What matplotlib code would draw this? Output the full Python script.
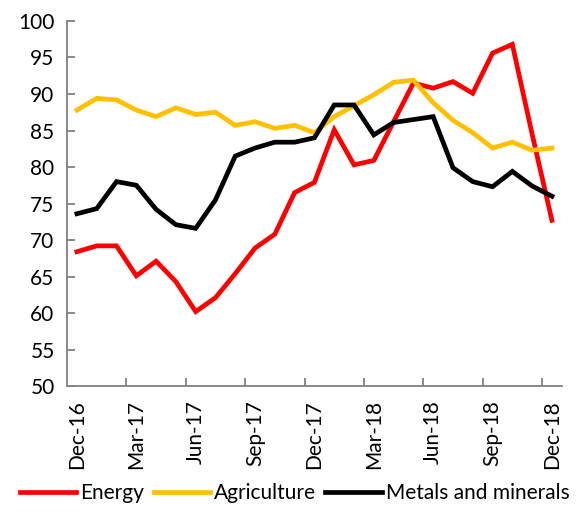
import numpy as np
import matplotlib
matplotlib.use("Agg")
import matplotlib.pyplot as plt

plt.rcParams['font.family'] = ['Lato', 'DejaVu Sans']

# Monthly index values, Dec-16 .. Dec-18
months = ["Dec-16", "Jan-17", "Feb-17", "Mar-17", "Apr-17", "May-17", "Jun-17",
          "Jul-17", "Aug-17", "Sep-17", "Oct-17", "Nov-17", "Dec-17", "Jan-18",
          "Feb-18", "Mar-18", "Apr-18", "May-18", "Jun-18", "Jul-18", "Aug-18",
          "Sep-18", "Oct-18", "Nov-18", "Dec-18"]

energy = [68.4, 69.2, 69.2, 65.1, 67.1, 64.3, 60.2, 62.1, 65.4, 68.9, 70.8, 76.5,
          77.9, 85.1, 80.3, 80.9, 86.2, 91.5, 90.8, 91.7, 90.1, 95.6, 96.8, 84.5, 72.7]
agriculture = [87.8, 89.4, 89.2, 87.8, 86.9, 88.1, 87.2, 87.5, 85.7, 86.2, 85.3, 85.7,
               84.7, 86.9, 88.4, 89.9, 91.6, 91.9, 88.8, 86.4, 84.7, 82.6, 83.4, 82.3, 82.6]
metals = [73.6, 74.3, 78.0, 77.5, 74.2, 72.1, 71.6, 75.5, 81.5, 82.6, 83.4, 83.4,
          84.0, 88.5, 88.5, 84.4, 86.1, 86.5, 86.9, 79.9, 78.0, 77.3, 79.4, 77.4, 76.0]

series = [("Energy", energy, "#FF0000"),
          ("Agriculture", agriculture, "#FFC000"),
          ("Metals and minerals", metals, "#000000")]

fig = plt.figure(figsize=(5.78, 5.12), dpi=100)
ax = fig.add_axes([0.116, 0.246, 0.856, 0.713])

x = np.arange(len(months))
for name, vals, color in series:
    ax.plot(x, vals, color=color, lw=3.4, label=name, solid_joinstyle="miter")

ax.set_xlim(-0.5, len(months) - 0.5)
ax.set_ylim(50, 100)
ax.set_yticks(np.arange(50, 101, 5))

# labels every 3 months, tick marks between categories
ax.set_xticks(x[::3])
ax.set_xticklabels(months[::3], rotation=90)
ax.set_xticks(x[::3][1:] - 0.5, minor=True)
ax.tick_params(axis="x", which="major", length=0, pad=10, labelsize=15)
ax.tick_params(axis="x", which="minor", direction="in", length=6, color="#808080", width=1.3)
ax.tick_params(axis="y", direction="in", length=6, color="#808080", width=1.3, labelsize=15, pad=9)

for side in ["top", "right"]:
    ax.spines[side].set_visible(False)
for side in ["left", "bottom"]:
    ax.spines[side].set_color("#808080")
    ax.spines[side].set_linewidth(1.3)

fig.legend(loc="lower center", bbox_to_anchor=(0.51, -0.02), ncol=3, frameon=False,
           fontsize=15, handlelength=2.7, handletextpad=0.2, columnspacing=0.45)

fig.savefig("out.png", dpi=100)
